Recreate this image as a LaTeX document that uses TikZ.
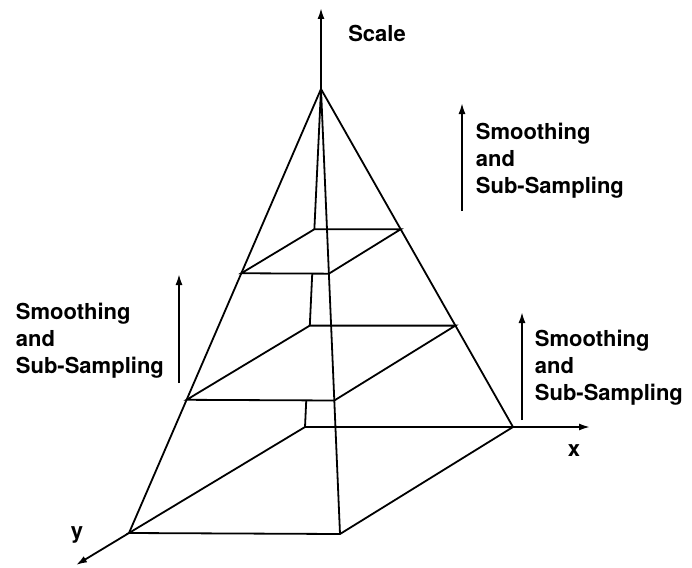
\documentclass[tikz,border=0pt]{standalone}
\usepackage{fontspec}
\setmainfont{TeX Gyre Heros}
\usetikzlibrary{calc,arrows.meta}

\begin{document}
\begin{tikzpicture}[x=1pt,y=-1pt,line width=1.8pt,
  axis/.style={-{Latex[length=11pt,width=7pt]}},
  lbl/.style={anchor=west,align=left,inner sep=0pt,font=\fontsize{22}{27}\selectfont\bfseries}]
  \useasboundingbox (0,0) rectangle (692,567);

  % Apex and base of the pyramid
  \coordinate (apex) at (321,89);
  \coordinate (A1) at (129,533);
  \coordinate (B1) at (340,534);
  \coordinate (C1) at (513,427);
  \coordinate (D1) at (305,427);

  % Upper levels as cuts through the pyramid
  \foreach \lev/\t in {2/0.70,3/0.415} {
    \coordinate (A\lev) at ($(apex)!\t!(A1)$);
    \coordinate (B\lev) at ($(apex)!\t!(B1)$);
    \coordinate (C\lev) at ($(apex)!\t!(C1)$);
    \coordinate (D\lev) at ($(apex)!\t!(D1)$);
  }
  \foreach \lev in {1,2,3}
    \draw (A\lev) -- (B\lev) -- (C\lev) -- (D\lev) -- cycle;

  % Edges
  \draw (apex) -- (A1);
  \draw (apex) -- (B1);
  \draw (apex) -- (C1);
  \draw (apex) -- (D3);
  \draw (intersection of apex--D1 and A3--B3) -- (D2);
  \draw (intersection of apex--D1 and A2--B2) -- (D1);

  % Axes
  \coordinate (scaletip) at (321,8);
  \coordinate (xtip) at (590,427);
  \coordinate (ytip) at (76,565);
  \draw[axis] (apex) -- (scaletip);
  \draw[axis] (C1) -- (xtip);
  \draw[axis] (A1) -- (ytip);
  \node[lbl,anchor=center] (scale) at (377,33) {Scale};
  \node[lbl,anchor=center] (xlab) at (574,451) {x};
  \node[lbl,anchor=center] (ylab) at (77,535) {y};

  % Smoothing and sub-sampling steps
  \coordinate (s1a) at (462,211);
  \coordinate (s1b) at (462,103);
  \coordinate (s2a) at (179,383);
  \coordinate (s2b) at (179,274);
  \coordinate (s3a) at (522,420);
  \coordinate (s3b) at (522,312);
  \draw[axis] (s1a) -- (s1b);
  \draw[axis] (s2a) -- (s2b);
  \draw[axis] (s3a) -- (s3b);
  \node[lbl] (step1) at (475,161) {Smoothing\\and\\Sub-Sampling};
  \node[lbl] (step2) at (15,341) {Smoothing\\and\\Sub-Sampling};
  \node[lbl] (step3) at (534,368) {Smoothing\\and\\Sub-Sampling};
\end{tikzpicture}
\end{document}
